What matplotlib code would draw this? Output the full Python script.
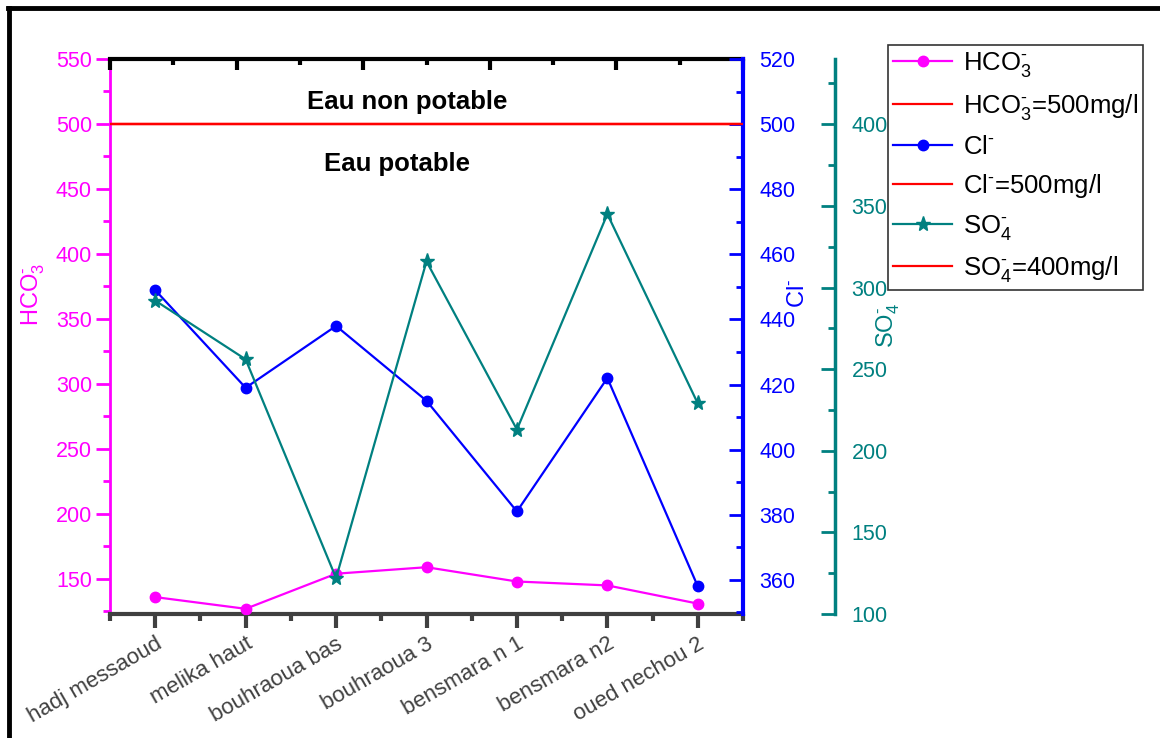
import numpy as np
import matplotlib
matplotlib.use("Agg")
import matplotlib.pyplot as plt
from matplotlib.lines import Line2D
from matplotlib.ticker import MultipleLocator, FixedLocator

plt.rcParams['font.family'] = ['Liberation Sans', 'DejaVu Sans']
plt.rcParams['mathtext.fontset'] = 'custom'
plt.rcParams['mathtext.rm'] = 'Liberation Sans'
plt.rcParams['mathtext.it'] = 'Liberation Sans'

# sites (x axis)
sites = ["hadj messaoud", "melika haut", "bouhraoua bas", "bouhraoua 3",
         "bensmara n 1", "bensmara n2", "oued nechou 2"]
# concentrations mg/l
hco3 = [136, 127, 154, 159, 148, 145, 131]
cl = [449, 419, 438, 415, 381, 422, 358]
so4 = [292, 256, 122, 316, 213, 345, 229]
# potability limits
hco3_lim = 500
cl_lim = 500
so4_lim = 400

MAG = '#FF00FF'
BLUE = '#0000FF'
TEAL = '#008080'
RED = '#FF0000'
GREY = '#404040'
TS = 15.5  # tick label size

fig = plt.figure(figsize=(11.6, 7.38), dpi=100)
ax = fig.add_axes([110/1160, 1-614/738, 633/1160, 555/738])
x = np.arange(len(sites))

# HCO3 layer
ax.plot(x, hco3, color=MAG, lw=1.6, marker='o', ms=7.5, mfc=MAG, mec=MAG, zorder=4)
ax.axhline(hco3_lim, color=RED, lw=1.6)
ax.set_xlim(-0.5, len(sites) - 0.5)
ax.set_ylim(123, 550)
ax.yaxis.set_major_locator(MultipleLocator(50))
ax.yaxis.set_minor_locator(MultipleLocator(25))
ax.tick_params(axis='y', which='major', direction='out', length=10, width=2,
               colors=MAG, labelsize=TS, pad=3)
ax.tick_params(axis='y', which='minor', direction='out', length=5, width=2, colors=MAG)
ax.set_xticks(x)
ax.set_xticklabels(sites, rotation=30, ha='right', va='top', rotation_mode='anchor',
                   fontsize=16, color=GREY)
ax.xaxis.set_minor_locator(FixedLocator(np.arange(-0.5, len(sites), 1.0)))
ax.tick_params(axis='x', which='major', direction='out', length=10, width=3,
               colors=GREY, pad=4)
ax.tick_params(axis='x', which='minor', direction='out', length=5, width=3, colors=GREY)
ax.tick_params(axis='x', labelcolor=GREY)
ax.set_ylabel(r'HCO$_3^{\text{-}}$', color=MAG, fontsize=17)
ax.yaxis.set_label_coords(-0.1, 0.575)
ax.spines['left'].set_color(MAG)
ax.spines['left'].set_linewidth(2)
ax.spines['bottom'].set_color(GREY)
ax.spines['bottom'].set_linewidth(3)
ax.spines['top'].set_color('black')
ax.spines['top'].set_linewidth(3)
ax.spines['right'].set_visible(False)

ax.text(2.79, 517, 'Eau non potable', ha='center', va='center',
        fontsize=18.5, fontweight='bold')
ax.text(2.67, 469, 'Eau potable', ha='center', va='center',
        fontsize=18.5, fontweight='bold')

# top axis with its own ticks
axt = ax.twiny()
axt.set_xlim(0, 5)
axt.xaxis.set_major_locator(MultipleLocator(1))
axt.xaxis.set_minor_locator(MultipleLocator(0.5))
axt.tick_params(axis='x', which='major', direction='in', length=8, width=3,
                colors='black', labeltop=False)
axt.tick_params(axis='x', which='minor', direction='in', length=4, width=3, colors='black')
for s in axt.spines.values():
    s.set_visible(False)

# Cl layer
ax2 = ax.twinx()
ax2.plot(x, cl, color=BLUE, lw=1.6, marker='o', ms=7.5, mfc=BLUE, mec=BLUE, zorder=4)
ax2.axhline(cl_lim, color=RED, lw=1.6)
ax2.set_ylim(349.5, 520)
ax2.yaxis.set_major_locator(MultipleLocator(20))
ax2.yaxis.set_minor_locator(MultipleLocator(10))
ax2.tick_params(axis='y', which='major', direction='in', length=10, width=2,
                colors=BLUE, labelsize=TS, pad=12)
ax2.tick_params(axis='y', which='minor', direction='in', length=5, width=2, colors=BLUE)
for k in ['left', 'top', 'bottom']:
    ax2.spines[k].set_visible(False)
ax2.spines['right'].set_color(BLUE)
ax2.spines['right'].set_linewidth(3)
ax2.set_ylabel(r'Cl$^{\text{-}}$', color=BLUE, fontsize=17)
ax2.yaxis.set_label_coords(1.069, 0.578)

# SO4 layer
ax3 = ax.twinx()
ax3.plot(x, so4, color=TEAL, lw=1.6, marker='*', ms=11, mfc=TEAL, mec=TEAL, zorder=4)
ax3.axhline(so4_lim, color=RED, lw=1.6)
ax3.set_ylim(100, 440)
ax3.spines['right'].set_position(('axes', (835-110)/633))
ax3.yaxis.set_major_locator(MultipleLocator(50))
ax3.yaxis.set_minor_locator(MultipleLocator(25))
ax3.tick_params(axis='y', which='major', direction='in', length=10, width=2,
                colors=TEAL, labelsize=TS, pad=12)
ax3.tick_params(axis='y', which='minor', direction='in', length=5, width=2, colors=TEAL)
for k in ['left', 'top', 'bottom']:
    ax3.spines[k].set_visible(False)
ax3.spines['right'].set_color(TEAL)
ax3.spines['right'].set_linewidth(2.5)
ax3.set_ylabel(r'SO$_4^{\text{-}}$', color=TEAL, fontsize=17)
ax3.yaxis.set_label_coords(1.2085, 0.52)

# legend
handles = [
    Line2D([], [], color=MAG, lw=1.6, marker='o', ms=7.5),
    Line2D([], [], color=RED, lw=1.6),
    Line2D([], [], color=BLUE, lw=1.6, marker='o', ms=7.5),
    Line2D([], [], color=RED, lw=1.6),
    Line2D([], [], color=TEAL, lw=1.6, marker='*', ms=11),
    Line2D([], [], color=RED, lw=1.6),
]
labels = [r'HCO$_3^{\text{-}}$', r'HCO$_3^{\text{-}}$=500mg/l', r'Cl$^{\text{-}}$',
          r'Cl$^{\text{-}}$=500mg/l', r'SO$_4^{\text{-}}$', r'SO$_4^{\text{-}}$=400mg/l']
leg = fig.legend(handles, labels, loc='upper left',
                 bbox_to_anchor=(888/1160, 1-45/738), fontsize=18.5,
                 frameon=True, fancybox=False, edgecolor='#333333', framealpha=1,
                 handlelength=2.3, labelspacing=0.5, borderpad=0.2,
                 handletextpad=0.4, borderaxespad=0)
leg.get_frame().set_linewidth(1.2)

# outer frame (top and left only)
fig.add_artist(Line2D([8/1160, 1], [1-8/738, 1-8/738], color='black', lw=3.5,
                      transform=fig.transFigure))
fig.add_artist(Line2D([9/1160, 9/1160], [0, 1-8/738], color='black', lw=3.5,
                      transform=fig.transFigure))

fig.savefig('out.png', dpi=100)
